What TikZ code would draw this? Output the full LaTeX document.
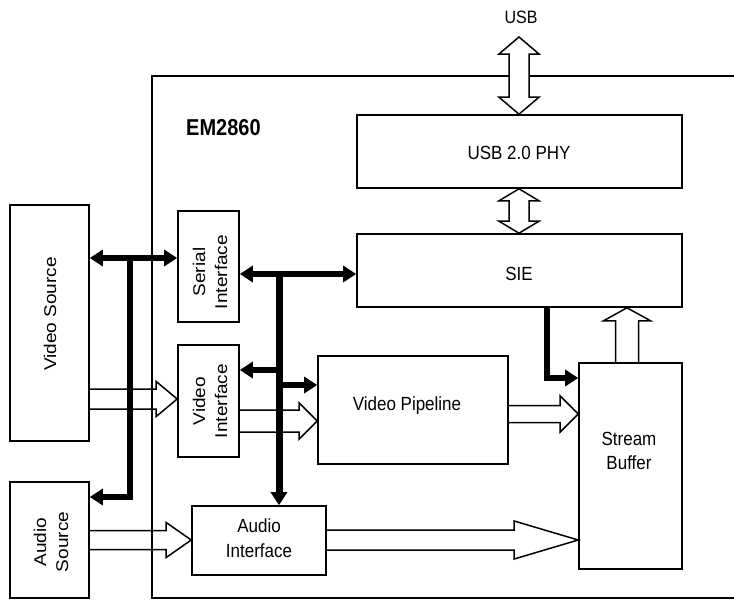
\documentclass[tikz,border=0pt]{standalone}
\usepackage{fontspec}
\setmainfont{Liberation Sans}
\usetikzlibrary{arrows.meta,calc}
\tikzset{
  box/.style={draw, line width=1.6pt, inner sep=0pt},
  lbl/.style={inner sep=0pt, align=center, yscale=1.12, font=\fontsize{17}{22}\selectfont},
  hollow/.style={draw, line width=1.5pt, line join=miter},
  chip/.style={draw, line width=2.8pt},
  bus/.style={line width=5.5pt, line join=miter},
  busR/.style={bus, -{Triangle[length=13pt,width=16pt]}},
  busLR/.style={bus, {Triangle[length=13pt,width=16pt]}-{Triangle[length=13pt,width=16pt]}},
}
% horizontal hollow arrow to the right
\newcommand\hright[6]{%
  \draw[hollow] let \p1=(#1), \p2=(#2), \p3=(0,#3) in
  (\x1,\y3+#4) -- (\x2-#6,\y3+#4) -- (\x2-#6,\y3+#5) -- (\x2,\y3) -- (\x2-#6,\y3-#5) -- (\x2-#6,\y3-#4) -- (\x1,\y3-#4);}
% vertical hollow double arrow
\newcommand\vdouble[7]{%
  \draw[hollow,#7] let \p1=(#1), \p2=(#2), \p3=(#3,0) in
  (\x3,\y1) -- (\x3+#5,\y1-#6) -- (\x3+#4,\y1-#6) -- (\x3+#4,\y2+#6) -- (\x3+#5,\y2+#6) -- (\x3,\y2) -- (\x3-#5,\y2+#6) -- (\x3-#4,\y2+#6) -- (\x3-#4,\y1-#6) -- (\x3-#5,\y1-#6) -- cycle;}
% vertical hollow arrow upwards
\newcommand\vup[6]{%
  \draw[hollow] let \p1=(#1), \p2=(#2), \p3=(#3,0) in
  (\x3-#4,\y1) -- (\x3-#4,\y2-#6) -- (\x3-#5,\y2-#6) -- (\x3,\y2) -- (\x3+#5,\y2-#6) -- (\x3+#4,\y2-#6) -- (\x3+#4,\y1);}
\begin{document}
\begin{tikzpicture}[x=1pt,y=-1pt]
\useasboundingbox (0,0) rectangle (734,600);

% blocks
\node[box, minimum width=325pt, minimum height=73pt] (phy) at (519.5,151.5) {};
\node[lbl] (phyt) at (519,153) {USB 2.0 PHY};
\node[box, minimum width=325pt, minimum height=73pt] (sie) at (519.5,270.5) {};
\node[lbl] (siet) at (519,274) {SIE};
\node[box, minimum width=61pt, minimum height=111pt] (si) at (208.5,266.5) {};
\node[lbl, rotate=90] (sit) at (210,272) {Serial\\Interface};
\node[box, minimum width=61pt, minimum height=112pt] (vi) at (208.5,401) {};
\node[lbl, rotate=90] (vit) at (210,401) {Video\\Interface};
\node[box, minimum width=79pt, minimum height=236pt] (vs) at (49.5,323) {};
\node[lbl, rotate=90] (vst) at (50,314) {Video Source};
\node[box, minimum width=79pt, minimum height=116pt] (as) at (49.5,540) {};
\node[lbl, rotate=90] (ast) at (51,542) {Audio\\Source};
\node[box, minimum width=134pt, minimum height=69pt] (ai) at (259,540.5) {};
\node[lbl] (ait) at (259,538) {Audio\\Interface};
\node[box, minimum width=190pt, minimum height=108pt] (vp) at (413,410) {};
\node[lbl] (vpt) at (407,406) {Video Pipeline};
\node[box, minimum width=103pt, minimum height=206pt] (sb) at (630.5,466) {};
\node[lbl] (sbt) at (629,451) {Stream\\Buffer};

\node[anchor=west, inner sep=0pt, yscale=1.15, font=\bfseries\fontsize{20}{24}\selectfont] (em) at (186,128) {EM2860};
\node[inner sep=0pt, yscale=1.12, font=\fontsize{16}{20}\selectfont] (usb) at (521,17) {USB};
\coordinate (usbtip) at (519,37);

% hollow data arrows
\hright{vs.east}{vi.west}{399}{10pt}{17.5pt}{21pt}
\hright{vi.east}{vp.west}{421}{11pt}{18pt}{18pt}
\hright{vp.east}{sb.west}{414}{8.5pt}{18pt}{18pt}
\hright{as.east}{ai.west}{540}{9.5pt}{17.5pt}{25pt}
\hright{ai.east}{sb.west}{540}{10pt}{19pt}{64pt}
\vup{sb.north}{sie.south}{627}{11.5pt}{23.5pt}{13pt}
\vdouble{phy.south}{sie.north}{519}{10pt}{20pt}{12pt}{}

% chip outline
\coordinate (c1) at (734,76);
\coordinate (c2) at (152,76);
\coordinate (c3) at (152,598);
\coordinate (c4) at (734,598);
\draw[chip] (c1) -- (c2) -- (c3) -- (c4);

\vdouble{usbtip}{phy.north}{519}{10pt}{20pt}{17pt}{fill=white}

% control buses
\coordinate (b1) at (130,258);
\coordinate (b1d) at (130,497);
\draw[busLR] (vs.east |- b1) -- (si.west |- b1);
\draw[busR] (b1) -- (b1d) -- (as.east |- b1d);

\coordinate (b2) at (279,274);
\coordinate (b2v) at (279,370);
\coordinate (b2p) at (279,385);
\draw[busLR] (si.east |- b2) -- (sie.west |- b2);
\draw[busR, line width=7pt] (b2) -- (b2 |- ai.north);
\draw[busR] (b2v) -- (vi.east |- b2v);
\draw[busR] (b2p) -- (vp.west |- b2p);

\coordinate (b3) at (547,378);
\draw[busR] (b3 |- sie.south) -- (b3) -- (sb.west |- b3);
\end{tikzpicture}
\end{document}
